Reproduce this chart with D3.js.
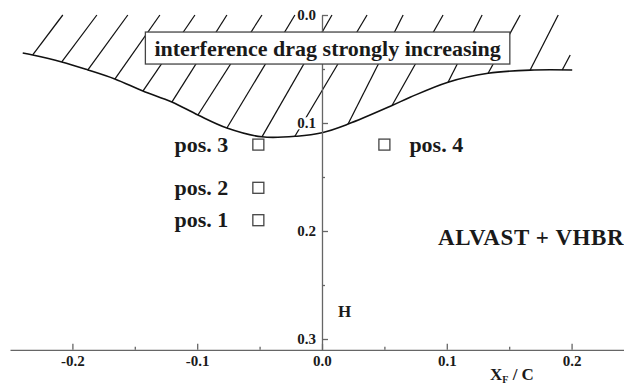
<!DOCTYPE html>
<html>
<head>
<meta charset="utf-8">
<script src="https://cdn.jsdelivr.net/npm/d3@7"></script>
<style>
  body { margin: 0; background: #fff; }
  svg { display: block; }
  text { font-family: "Liberation Serif", "Times New Roman", serif; font-weight: bold; fill: #1a1a1a; }
</style>
</head>
<body>
<svg id="chart" width="624" height="388"></svg>
<script>
// Boundary of the region where interference drag rises strongly (x = X_F/C, y = H)
const boundaryX = [-0.2398, -0.2318, -0.2085, -0.1876, -0.1660, -0.1435, -0.1203, -0.0994, -0.0762, -0.0481, -0.0200, 0.0000, 0.0209, 0.0561, 0.0706, 0.1010, 0.1331, 0.1668, 0.2005];
const boundaryH = [0.0352, 0.0370, 0.0435, 0.0509, 0.0593, 0.0704, 0.0806, 0.0926, 0.1046, 0.1128, 0.1122, 0.1090, 0.1010, 0.0838, 0.0762, 0.0622, 0.0540, 0.0510, 0.0509];

// Hatch strokes: foot on the boundary, head towards H = 0
const hatchFootX = [-0.2318, -0.2085, -0.1876, -0.1660, -0.1435, -0.1203, -0.0994, -0.0762, -0.0481, -0.0217, 0.0209, 0.0561, 0.1010, 0.1331, 0.1668, 0.1925];
const hatchTopX  = [-0.2077, -0.1804, -0.1556, -0.1299, -0.1018, -0.0762, -0.0481, -0.0217, 0.0080, 0.0361, 0.0650, 0.0970, 0.1283, 0.1588, 0.1893, 0.1989];
const hatchTopH  = [0, 0, 0, 0, 0, 0, 0, 0, 0, 0, 0, 0, 0, 0, 0, 0.037];

// Measured engine positions
const posNames = ["pos. 1", "pos. 2", "pos. 3", "pos. 4"];
const posX = [-0.051, -0.051, -0.051, 0.050];
const posH = [0.19, 0.16, 0.12, 0.12];

// Axis ticks
const xMajorTicks = [-0.2, -0.1, 0.0, 0.1, 0.2];
const xMinorTicks = [-0.15, -0.05, 0.05, 0.15];
const yMajorTicks = [0.0, 0.1, 0.2, 0.3];
const yMinorTicks = [0.05, 0.15, 0.25];

const regionLabel = "interference drag strongly increasing";
const configLabel = "ALVAST + VHBR";

const serif = "'Liberation Serif', 'Times New Roman', serif";
const svg = d3.select("#chart");

const x = d3.scaleLinear().domain([-0.25, 0.242]).range([10, 624]);
const y = d3.scaleLinear().domain([0, 0.31]).range([15, 349.8]);
const boundaryAt = d3.scaleLinear().domain(boundaryX).range(boundaryH);

const fmt = d => d.toFixed(1);

// Hatching
svg.append("g")
  .selectAll("line")
  .data(hatchFootX)
  .join("line")
  .attr("x1", d => x(d))
  .attr("y1", d => y(boundaryAt(d)))
  .attr("x2", (d, i) => x(hatchTopX[i]))
  .attr("y2", (d, i) => y(hatchTopH[i]))
  .attr("stroke", "#111")
  .attr("stroke-width", 1.25);

// Boundary curve
const line = d3.line()
  .x((d, i) => x(boundaryX[i]))
  .y((d, i) => y(boundaryH[i]))
  .curve(d3.curveCatmullRom.alpha(0.5));
svg.append("path")
  .datum(boundaryX)
  .attr("d", line)
  .attr("fill", "none")
  .attr("stroke", "#111")
  .attr("stroke-width", 1.6);

// X axis (ticks pointing up, labels below)
const xAxisG = svg.append("g").attr("transform", `translate(0,${y(0.31)})`);
xAxisG.call(d3.axisBottom(x).tickValues(xMajorTicks).tickFormat(fmt)
  .tickSizeInner(-6).tickSizeOuter(0).tickPadding(6));
xAxisG.append("g").call(d3.axisBottom(x).tickValues(xMinorTicks).tickFormat("")
  .tickSizeInner(-3).tickSizeOuter(0))
  .select(".domain").remove();

// Y axis (ticks pointing right, labels left)
const yAxisG = svg.append("g").attr("transform", `translate(${x(0)},0)`);
yAxisG.call(d3.axisLeft(y).tickValues(yMajorTicks).tickFormat(fmt)
  .tickSizeInner(-6).tickSizeOuter(0).tickPadding(6));
yAxisG.append("g").call(d3.axisLeft(y).tickValues(yMinorTicks).tickFormat("")
  .tickSizeInner(-3).tickSizeOuter(0))
  .select(".domain").remove();

svg.selectAll(".domain, .tick line").attr("stroke", "#666").attr("stroke-width", 1.3);
svg.selectAll("g[font-family]").attr("font-family", serif);
svg.selectAll(".tick text")
  .attr("font-family", serif)
  .attr("font-size", 15)
  .attr("font-weight", "bold")
  .attr("fill", "#1a1a1a");

// White backing behind the y tick labels
yAxisG.selectAll(".tick").each(function () {
  const t = d3.select(this).select("text");
  if (t.empty() || !t.text()) return;
  const b = t.node().getBBox();
  d3.select(this).insert("rect", "text")
    .attr("x", b.x - 1).attr("y", b.y + 2)
    .attr("width", b.width + 2).attr("height", b.height - 4)
    .attr("fill", "#fff");
});

// Framed label over the hatched region
const boxG = svg.append("g");
const boxText = boxG.append("text")
  .attr("x", x(0.0045))
  .attr("y", y(0.038))
  .attr("text-anchor", "middle")
  .attr("font-family", serif)
  .attr("font-size", 22)
  .text(regionLabel);
const bb = boxText.node().getBBox();
boxG.insert("rect", "text")
  .attr("x", bb.x - 9).attr("y", bb.y - 4)
  .attr("width", bb.width + 18).attr("height", bb.height + 7)
  .attr("fill", "#fff")
  .attr("stroke", "#444")
  .attr("stroke-width", 1.3);

// Position markers
const side = 11;
svg.append("g")
  .selectAll("rect")
  .data(posNames)
  .join("rect")
  .attr("x", (d, i) => x(posX[i]) - side / 2)
  .attr("y", (d, i) => y(posH[i]) - side / 2)
  .attr("width", side).attr("height", side)
  .attr("fill", "#fff")
  .attr("stroke", "#444")
  .attr("stroke-width", 1.3);

svg.append("g")
  .selectAll("text")
  .data(posNames)
  .join("text")
  .attr("x", (d, i) => posX[i] > 0 ? x(posX[i]) + 25 : x(posX[i]) - 30)
  .attr("y", (d, i) => y(posH[i]) + 7)
  .attr("text-anchor", (d, i) => posX[i] > 0 ? "start" : "end")
  .attr("font-family", serif)
  .attr("font-size", 22)
  .text(d => d);

// Configuration name
svg.append("text")
  .attr("x", 438).attr("y", 245)
  .attr("font-family", serif)
  .attr("font-size", 23)
  .attr("letter-spacing", 0.6)
  .text(configLabel);

// Axis titles
svg.append("text")
  .attr("x", 338).attr("y", 317)
  .attr("font-family", serif)
  .attr("font-size", 17)
  .text("H");

const xTitle = svg.append("text")
  .attr("x", 490).attr("y", 380)
  .attr("font-family", serif)
  .attr("font-size", 17);
xTitle.append("tspan").text("X");
xTitle.append("tspan").attr("font-size", 10).attr("dy", 3).text("F");
xTitle.append("tspan").attr("dy", -3).text(" / C");
</script>
</body>
</html>
